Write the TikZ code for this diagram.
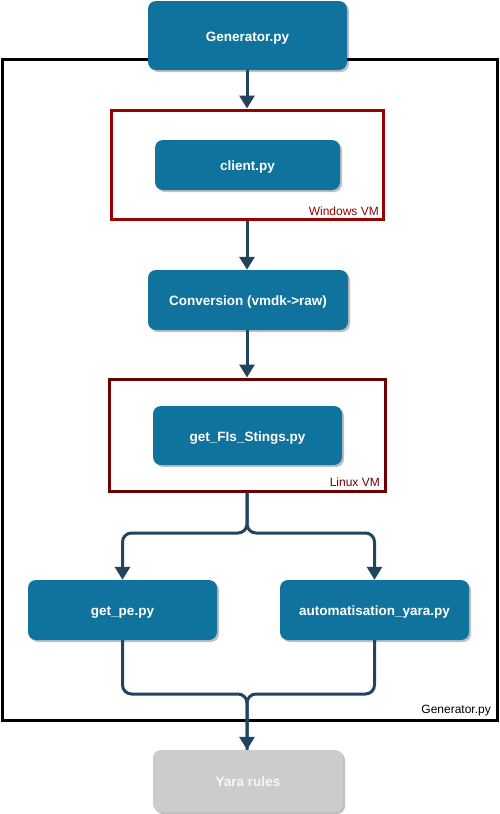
\documentclass[tikz,border=0pt]{standalone}
\usepackage{fontspec}
\setmainfont{Liberation Sans}
\usetikzlibrary{arrows.meta,shadows}
\definecolor{boxblue}{HTML}{10739E}
\definecolor{arrcol}{HTML}{23445D}
\definecolor{winred}{HTML}{990000}
\definecolor{linred}{HTML}{6F0000}
\definecolor{yaragray}{HTML}{CCCCCC}
\begin{document}
\begin{tikzpicture}[x=1pt,y=-1pt,
  proc/.style={draw=none, fill=boxblue, rounded corners=8pt, text=white,
    font=\fontsize{13.5}{16}\selectfont\bfseries, inner sep=0pt,
    text height=12pt, text depth=1pt,
    drop shadow={shadow xshift=2pt, shadow yshift=-2pt, opacity=0.25, fill=black}},
  vmbox/.style={draw, line width=3pt, fill=none, inner sep=0pt},
  lbl/.style={font=\fontsize{12}{14}\selectfont, inner sep=0pt, anchor=south east},
  arr/.style={draw=arrcol, line width=3pt, rounded corners=9pt,
    -{Triangle[length=13pt,width=15pt]}},
  line/.style={draw=arrcol, line width=3pt, rounded corners=9pt}
]
\useasboundingbox (0,0) rectangle (499,814);
% outer box
\node[draw=black, line width=3pt, minimum width=495pt, minimum height=661pt, inner sep=0pt] (outer) at (249.5,389.5) {};
\node[lbl] (outerlbl) at (491,716) {Generator.py};
% VM boxes
\node[vmbox, draw=winred, minimum width=272pt, minimum height=109pt] (win) at (247,164.5) {};
\node[lbl, text=winred] (winlbl) at (379,216) {Windows VM};
\node[vmbox, draw=linred, minimum width=276pt, minimum height=112pt] (lin) at (247,435) {};
\node[lbl, text=linred] (linlbl) at (380,487) {Linux VM};
% process nodes
\node[proc, minimum width=199pt, minimum height=69pt] (gen) at (247.5,35.5) {Generator.py};
\node[proc, minimum width=185pt, minimum height=50pt] (client) at (247.5,165) {client.py};
\node[proc, minimum width=200pt, minimum height=60pt] (conv) at (248,300) {Conversion (vmdk->raw)};
\node[proc, minimum width=189pt, minimum height=59pt] (fis) at (247.5,435.5) {get\_FIs\_Stings.py};
\node[proc, minimum width=189pt, minimum height=60pt] (pe) at (122.5,610) {get\_pe.py};
\node[proc, minimum width=189pt, minimum height=60pt] (auto) at (374.5,610) {automatisation\_yara.py};
\node[proc, fill=yaragray, text=white!93!gray, minimum width=190pt, minimum height=62pt] (yara) at (248,781) {Yara rules};
% connectors
\coordinate (split) at (247,533);
\coordinate (merge) at (247,694);
\draw[arr] (gen.south -| win.north) -- (win.north);
\draw[arr] (win.south) -- (conv.north -| win.south);
\draw[arr] (conv.south -| lin.north) -- (lin.north);
\draw[arr] (lin.south) -- (split) -| (pe.north);
\draw[arr] (lin.south) -- (split) -| (auto.north);
\draw[line] (pe.south) |- (merge) -- (merge |- yara.north);
\draw[arr] (auto.south) |- (merge) -- (merge |- yara.north);
\end{tikzpicture}
\end{document}
